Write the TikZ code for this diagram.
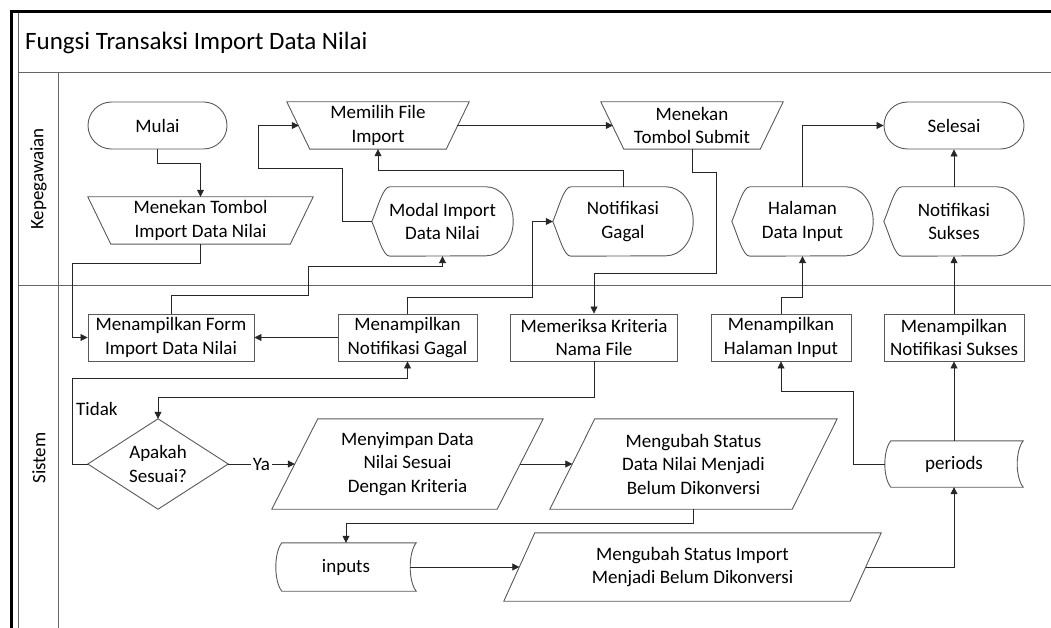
\documentclass[tikz,border=0pt]{standalone}
\usepackage{fontspec}
\setmainfont{Carlito}
\usetikzlibrary{arrows.meta}

% outline helpers for flowchart symbols built on plain rectangle nodes
\newcommand\manualop[2]{\draw[shapeline] (#1.north west) -- (#1.north east) -- ([xshift=-#2]#1.south east) -- ([xshift=#2]#1.south west) -- cycle;}
\newcommand\slantbox[2]{\draw[shapeline] ([xshift=#2]#1.north west) -- (#1.north east) -- ([xshift=-#2]#1.south east) -- (#1.south west) -- cycle;}
\newcommand\displaybox[1]{\draw[shapeline] (#1.west) .. controls ([xshift=6pt,yshift=14pt]#1.west) and ([xshift=11pt]#1.north west) .. ([xshift=18pt]#1.north west) -- ([xshift=-27pt]#1.north east) arc[start angle=90,end angle=-90,x radius=27pt,y radius=34.5pt] -- ([xshift=18pt]#1.south west) .. controls ([xshift=11pt]#1.south west) and ([xshift=6pt,yshift=-14pt]#1.west) .. (#1.west) -- cycle;}
\newcommand\storedbox[1]{\draw[shapeline] (#1.north east) -- ([xshift=6pt]#1.north west) .. controls ([xshift=-2pt,yshift=-10pt]#1.north west) and ([xshift=-2pt,yshift=10pt]#1.south west) .. ([xshift=6pt]#1.south west) -- (#1.south east) .. controls ([xshift=-8pt,yshift=10pt]#1.south east) and ([xshift=-8pt,yshift=-10pt]#1.north east) .. (#1.north east) -- cycle;}
\newcommand\decisionbox[1]{\draw[shapeline] (#1.north) -- (#1.east) -- (#1.south) -- (#1.west) -- cycle;}

\begin{document}
\begin{tikzpicture}[x=1pt,y=-1pt,
  every node/.style={font=\fontsize{19}{23.5}\selectfont, inner sep=0pt, align=center},
  shapeline/.style={draw=black!65, line width=0.9pt},
  terminal/.style={shapeline, rounded corners=23.5pt, minimum height=47pt},
  process/.style={shapeline, minimum height=47pt},
  txt/.style={minimum height=47pt},
  disp/.style={minimum height=69pt},
  conn/.style={draw=black!85, line width=0.8pt, -{Triangle[length=7pt,width=7pt]}},
  lane/.style={draw=black!60, line width=0.9pt}
]
\useasboundingbox (0,0) rectangle (1051,628);

% pool frame and lanes
\draw[line width=3pt, line join=miter] (11,628) -- (11,11.5) -- (1051,11.5);
\draw[lane] (18.5,13) -- (18.5,628);
\draw[lane] (18.5,72) -- (1051,72);
\draw[lane] (58,72) -- (58,628);
\draw[lane] (18.5,285) -- (1051,285);

\node[anchor=base west, font=\fontsize{25}{30}\selectfont] (judul) at (25,50) {Fungsi Transaksi Import Data Nilai};
\node[rotate=90] (lanepeg) at (38.5,179) {Kepegawaian};
\node[rotate=90] (lanesis) at (39,458) {Sistem};

% Kepegawaian lane
\node[terminal, minimum width=139pt] (mulai) at (157.5,125.5) {Mulai};
\node[txt, minimum width=225pt] (tombolimport) at (200.5,220.5) {Menekan Tombol\\Import Data Nilai};
\node[txt, minimum width=182pt] (pilihfile) at (378,125.5) {Memilih File\\Import};
\node[txt, minimum width=182pt] (submit) at (692,125.5) {Menekan\\Tombol Submit};
\node[terminal, minimum width=140pt] (selesai) at (954,125.5) {Selesai};
\node[disp, minimum width=141pt] (modal) at (442.5,221.5) {Modal Import\\Data Nilai};
\node[disp, minimum width=140pt] (notifgagal) at (623,221.5) {Notifikasi\\Gagal};
\node[disp, minimum width=141pt] (halaman) at (802.5,221.5) {Halaman\\Data Input};
\node[disp, minimum width=140pt] (notifsukses) at (954,221.5) {Notifikasi\\Sukses};

% Sistem lane
\node[process, minimum width=166pt] (form) at (171,337.5) {Menampilkan Form\\Import Data Nilai};
\node[process, minimum width=139pt] (tampilgagal) at (407.5,337.5) {Menampilkan\\Notifikasi Gagal};
\node[process, minimum width=167pt] (periksa) at (594,337.5) {Memeriksa Kriteria\\Nama File};
\node[process, minimum width=140pt] (tampilhal) at (781,337.5) {Menampilkan\\Halaman Input};
\node[process, minimum width=140pt] (tampilsukses) at (954,337.5) {Menampilkan\\Notifikasi Sukses};
\node[txt, minimum width=140pt, minimum height=90pt] (sesuai) at (158,464) {Apakah\\Sesuai?};
\node[txt, minimum width=271pt, minimum height=90pt] (simpan) at (407.5,464) {Menyimpan Data\\Nilai Sesuai\\Dengan Kriteria};
\node[txt, minimum width=287pt, minimum height=90pt] (ubahnilai) at (693.5,464) {Mengubah Status\\Data Nilai Menjadi\\Belum Dikonversi};
\node[txt, minimum width=138pt, minimum height=46pt] (periods) at (954,464) {periods};
\node[txt, minimum width=140pt, minimum height=48pt] (inputs) at (346,567) {inputs};
\node[txt, minimum width=377pt, minimum height=68pt] (ubahimport) at (692.5,567) {Mengubah Status Import\\Menjadi Belum Dikonversi};

% symbol outlines
\manualop{tombolimport}{23pt}
\manualop{pilihfile}{23pt}
\manualop{submit}{23pt}
\displaybox{modal}
\displaybox{notifgagal}
\displaybox{halaman}
\displaybox{notifsukses}
\decisionbox{sesuai}
\slantbox{simpan}{46pt}
\slantbox{ubahnilai}{45pt}
\slantbox{ubahimport}{31pt}
\storedbox{periods}
\storedbox{inputs}

% connectors
\draw[conn] (mulai.south) -- ++(0,14) -| (tombolimport.north);
\draw[conn] (tombolimport.south) -- ++(0,19) -| ([xshift=-15pt]form.west) -- (form.west);
\draw[conn] (form.north) -- ++(0,-18) -| (308,266) -| (modal.south);
\draw[conn] (modal.west) -- ++(-29,0) |- (258,168) |- ([xshift=12pt]pilihfile.west);
\draw[conn] ([xshift=-12pt]pilihfile.east) -- ([xshift=12pt]submit.west);
\draw[conn] (submit.south) -- ++(0,23) -| (716,273) -| (periksa.north);
\draw[conn] (notifgagal.north) -- ++(0,-16) -| (pilihfile.south);
\draw[conn] (tampilgagal.north) -- ++(0,-16) -| ([xshift=-20pt]notifgagal.west) -- (notifgagal.west);
\draw[conn] (tampilgagal.west) -- (form.east);
\draw[conn] (periksa.south) -- ++(0,36) -| (sesuai.north);
\draw[conn] (sesuai.west) -- ++(-15,0) |- ([yshift=-17pt]tampilgagal.south) -- (tampilgagal.south);
\node[anchor=west] (tidak) at (76,409) {Tidak};
\draw[conn] (sesuai.east) -- node[fill=white, inner sep=1.5pt] (ya) {Ya} ([xshift=23pt]simpan.west);
\draw[conn] ([xshift=-23pt]simpan.east) -- ([xshift=22.5pt]ubahnilai.west);
\draw[conn] (ubahnilai.south) -- ++(0,14) -| (inputs.north);
\draw[conn] ([xshift=-6pt]inputs.east) -- ([xshift=15.5pt]ubahimport.west);
\draw[conn] ([xshift=-15.5pt]ubahimport.east) -| (periods.south);
\draw[conn] (periods.west) -- ++(-31,0) |- ([yshift=-30pt]tampilhal.south) -- (tampilhal.south);
\draw[conn] (periods.north) -- (tampilsukses.south);
\draw[conn] (tampilhal.north) -- ++(0,-16) -| (halaman.south);
\draw[conn] (tampilsukses.north) -- (notifsukses.south);
\draw[conn] (halaman.north) |- (selesai.west);
\draw[conn] (notifsukses.north) -- (selesai.south);
\end{tikzpicture}
\end{document}
